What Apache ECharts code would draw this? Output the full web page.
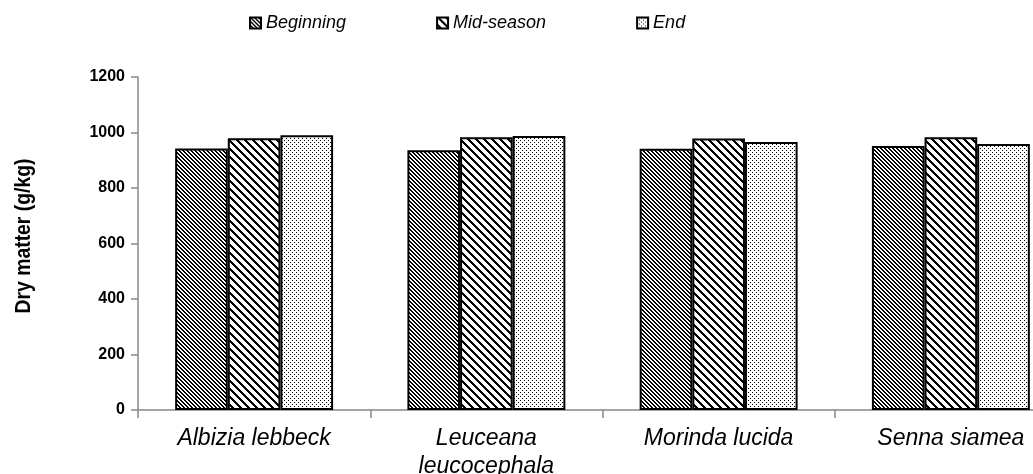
<!DOCTYPE html>
<html><head><meta charset="utf-8">
<script src="https://cdn.jsdelivr.net/npm/echarts@6/dist/echarts.min.js"></script>
<style>html,body{margin:0;padding:0;background:#fff}#c{width:1033px;height:474px}</style>
</head><body><div id="c"></div>
<script>
const categories = ['Albizia lebbeck', 'Leuceana\nleucocephala', 'Morinda lucida', 'Senna siamea'];
const seriesNames = ['Beginning', 'Mid-season', 'End'];
const beginning = [942, 936, 941, 951];
const midSeason = [979, 983, 978, 983];
const endVals = [990, 987, 966, 959];
const yTicks = [0, 200, 400, 600, 800, 1000, 1200];
const yTitle = 'Dry matter (g/kg)';

function tile(size, fn) {
  const c = document.createElement('canvas');
  c.width = size; c.height = size;
  const ctx = c.getContext('2d');
  const img = ctx.createImageData(size, size);
  for (let y = 0; y < size; y++) for (let x = 0; x < size; x++) {
    const i = (y * size + x) * 4;
    const v = fn(x, y) ? 0 : 255;
    img.data[i] = v; img.data[i+1] = v; img.data[i+2] = v; img.data[i+3] = 255;
  }
  ctx.putImageData(img, 0, 0);
  return c;
}
const patBeg = tile(4, (x, y) => ((x - y) % 4 + 4) % 4 < 2);
const patMid = tile(8, (x, y) => ((x - y) % 8 + 8) % 8 < 3);
const patEnd = tile(4, (x, y) => (x % 4 === 0 && y % 4 === 0) || (x % 4 === 2 && y % 4 === 2));
const pats = [patBeg, patMid, patEnd];
const data = [beginning, midSeason, endVals];

const chart = echarts.init(document.getElementById('c'));
chart.setOption({
  animation: false,
  backgroundColor: '#fff',
  legend: {
    top: 9, left: 244, itemGap: 90, itemWidth: 11, itemHeight: 11, icon: 'rect',
    textStyle: { fontFamily: 'Liberation Sans', fontStyle: 'italic', fontSize: 18, color: '#000' },
    data: seriesNames
  },
  graphic: [{
    type: 'text', x: 13, y: 236, rotation: Math.PI / 2, scaleX: 0.88,
    style: { text: yTitle, font: 'bold 22px "Liberation Sans"', fill: '#000', align: 'center', verticalAlign: 'top' }
  }],
  grid: { left: 138, top: 77, bottom: 64, right: -34, outerBoundsMode: 'none', containLabel: false },
  xAxis: {
    type: 'category', data: categories,
    axisLine: { lineStyle: { color: '#888', width: 1.5 } },
    axisTick: { show: true, length: 8, lineStyle: { color: '#888', width: 1.5 } },
    axisLabel: { fontFamily: 'Liberation Sans', fontStyle: 'italic', fontSize: 23, color: '#000', margin: 15, lineHeight: 28 }
  },
  yAxis: {
    type: 'value', min: 0, max: 1200, interval: 200,
    axisLine: { show: true, lineStyle: { color: '#888', width: 1.5 } },
    axisTick: { show: true, length: 7, lineStyle: { color: '#888', width: 1.5 } },
    splitLine: { show: false },
    axisLabel: { fontFamily: 'Liberation Sans', fontWeight: 'bold', fontSize: 16, color: '#000', margin: 13,
      formatter: v => yTicks.includes(v) ? String(v) : '' }
  },
  series: seriesNames.map((n, i) => ({
    name: n, type: 'bar', data: data[i],
    barGap: '0%', barCategoryGap: '32%',
    itemStyle: { color: { image: pats[i], repeat: 'repeat' }, borderColor: '#000', borderWidth: 2 }
  }))
});
</script></body></html>
